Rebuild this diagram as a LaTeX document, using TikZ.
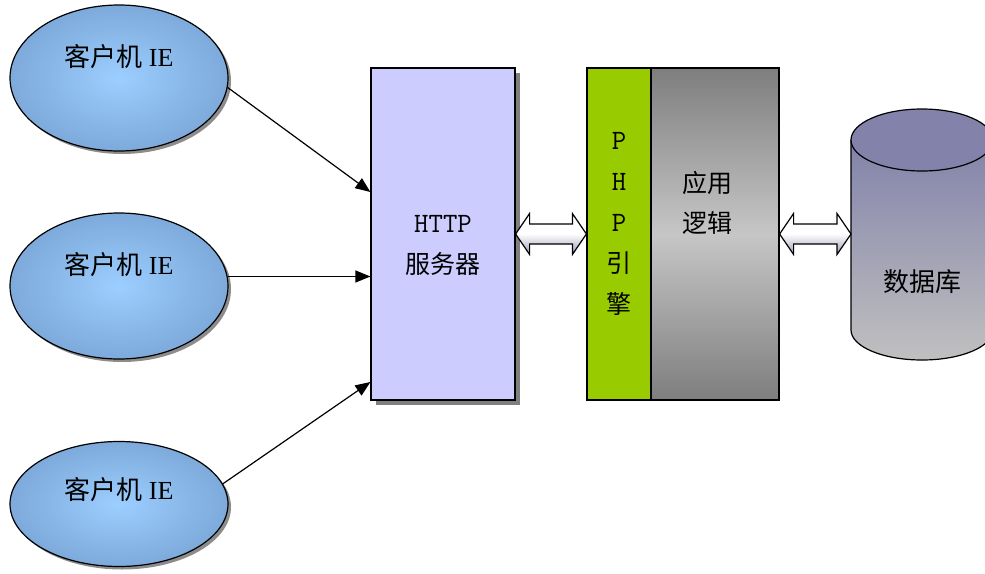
\documentclass[tikz,border=0pt]{standalone}
\usepackage{fontspec}
\setmainfont{Liberation Serif}
\newfontfamily\cjk{Noto Sans CJK SC}
\usepackage{xcolor}
\usetikzlibrary{shapes.geometric,shadows,arrows.meta,calc}
\definecolor{clientin}{HTML}{9CCEFF}
\definecolor{clientout}{HTML}{7DAADA}
\definecolor{httpfill}{HTML}{CCCCFF}
\definecolor{phpgreen}{HTML}{99CC00}
\definecolor{logicdark}{HTML}{7E7E7E}
\definecolor{logiclight}{HTML}{C6C6C6}
\definecolor{dbtop}{HTML}{8282AA}
\definecolor{dbbottom}{HTML}{C0C0C0}
\definecolor{arrowgray}{HTML}{9A9AB2}

\newcommand{\dblarrow}[2]{%
  \draw[fatarrow] (#1) -- ++(14,-20.5) -- ++(0,10.5) -- ($(#2)+(-14,-10)$)
    -- ++(0,-10.5) -- (#2) -- ++(-14,20.5) -- ++(0,-10.5) -- ($(#1)+(14,10)$)
    -- ++(0,10.5) -- cycle;}
\newcommand{\mono}[1]{{\ttfamily\fontsize{28}{41}\selectfont #1}}

\begin{document}
\begin{tikzpicture}[x=1pt,y=-1pt,
    client/.style={ellipse,draw,line width=1.2pt,minimum width=218pt,minimum height=146pt,inner sep=0pt,
      inner color=clientin,outer color=clientout,
      drop shadow={shadow xshift=3pt,shadow yshift=-3pt,fill=black,opacity=0.45}},
    clienttext/.style={font=\fontsize{26}{30}\selectfont},
    box/.style={rectangle,draw,line width=1.2pt,inner sep=0pt,minimum height=332pt},
    stack/.style={align=center,font=\fontsize{25}{41}\selectfont},
    conn/.style={line width=1.2pt,-{Triangle[length=15pt,width=12pt]}},
    fatarrow/.style={draw,line width=1.2pt,line join=miter,top color=white,bottom color=arrowgray,middle color=white}]
  \useasboundingbox (0,0) rectangle (985,573);

  \node[client] (c1) at (119,78) {};
  \node[client] (c2) at (119,286) {};
  \node[client,minimum height=125pt] (c3) at (119,504) {};
  \node[clienttext] (c1t) at (119,57) {{\cjk 客户机} IE};
  \node[clienttext] (c2t) at (119,265) {{\cjk 客户机} IE};
  \node[clienttext] (c3t) at (119,490) {{\cjk 客户机} IE};

  \node[box,fill=httpfill,minimum width=144pt,
    drop shadow={shadow xshift=5pt,shadow yshift=-5pt,fill=black,opacity=0.5}] (http) at (443,234) {};
  \node[stack] (httpt) at (443,245) {\mono{HTTP}\\{\cjk 服务器}};

  \node[box,fill=phpgreen,minimum width=64pt] (php) at (619,234) {};
  \node[stack] (phpt) at (619,224) {\mono{P}\\\mono{H}\\\mono{P}\\{\cjk 引}\\{\cjk 擎}};

  \node[box,minimum width=128pt,top color=logicdark,bottom color=logicdark,middle color=logiclight] (logic) at (715,234) {};
  \node[stack,font=\fontsize{25}{40}\selectfont] (logict) at (707,203) {{\cjk 应用}\\{\cjk 逻辑}};

  % database
  \fill[top color=dbtop,bottom color=dbbottom] (851,140) -- (851,330) arc[start angle=180,end angle=0,x radius=71,y radius=30] -- (993,140) -- cycle;
  \draw[line width=1.2pt] (851,140) -- (851,330) arc[start angle=180,end angle=0,x radius=71,y radius=30] -- (993,140);
  \draw[line width=1.2pt,fill=dbtop] (922,140) ellipse[x radius=71,y radius=31];
  \node[font=\fontsize{26}{30}\selectfont] (dbt) at (922,282) {\cjk 数据库};
  \coordinate (db) at (851,234);

  \draw[conn] (c1.-5) -- ([yshift=42pt]http.west);
  \draw[conn] (c2.5) -- (c2.5 -| http.west);
  \draw[conn] (c3.11) -- ([yshift=-148pt]http.west);

  \dblarrow{http.east}{php.west}
  \dblarrow{logic.east}{db}
\end{tikzpicture}
\end{document}
